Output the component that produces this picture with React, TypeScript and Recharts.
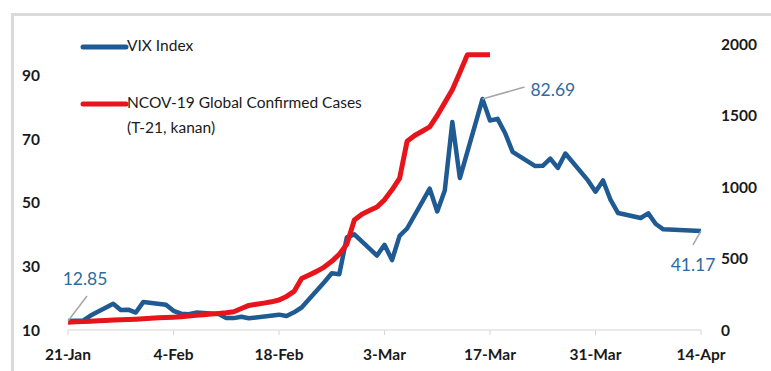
import { LineChart, Line, XAxis, YAxis, LabelList } from 'recharts';

// day offsets from 21-Jan for each VIX close (trading days only)
const vixDays = [
    0, 1, 2, 3, 6, 7, 8, 9, 10, 13, 14, 15, 16, 17, 20, 21, 22, 23, 24, 28, 29, 30, 31, 34, 35, 36, 37, 38,
    41, 42, 43, 44, 45, 48, 49, 50, 51, 52, 55, 56, 57, 58, 59, 62, 63, 64, 65, 66, 69, 70, 71, 72, 73, 76,
    77, 78, 79, 84,
];
const vixValues = [
    12.85, 12.91, 12.98, 14.56, 18.23, 16.28, 16.39, 15.49, 18.84, 17.97, 16.05, 15.15, 14.96, 15.47, 15.04,
    13.74, 13.74, 14.15, 13.68, 14.83, 14.38, 15.56, 17.08, 25.03, 27.85, 27.56, 39.16, 40.11, 33.42, 36.82,
    31.99, 39.62, 41.94, 54.46, 47.3, 53.9, 75.47, 57.83, 82.69, 75.91, 76.45, 72.0, 66.04, 61.59, 61.67,
    63.95, 61.0, 65.54, 57.08, 53.54, 57.06, 50.91, 46.8, 45.24, 46.7, 43.35, 41.67, 41.17,
];

// global confirmed cases (thousands), shifted 21 days, one value per calendar day from 21-Jan
const caseValues = [
    55, 57, 59, 61, 64, 67, 70, 72, 74, 76, 79, 82, 85, 88, 90, 93, 98, 103, 107, 111, 115, 120, 128, 150,
    172, 180, 188, 197, 210, 235, 270, 360, 385, 410, 440, 480, 530, 600, 770, 810, 835, 860, 910, 980, 1060,
    1320, 1360, 1390, 1420, 1500, 1590, 1680, 1800, 1925, 1925, 1925, 1925,
];

const tickDays = [0, 14, 28, 42, 56, 70, 84];
const tickLabels = ['21-Jan', '4-Feb', '18-Feb', '3-Mar', '17-Mar', '31-Mar', '14-Apr'];

const totalDays = 84;
const table = Array.from({ length: totalDays + 1 }, (_, d) => {
    const vi = vixDays.indexOf(d);
    return {
        d,
        vix: vi >= 0 ? vixValues[vi] : null,
        cases: d < caseValues.length ? caseValues[d] : null,
    };
});

const peakDay = vixDays[vixValues.indexOf(Math.max(...vixValues))];
const lastDay = vixDays[vixDays.length - 1];

const BLUE = '#1f5a92';
const RED = '#e8141c';
const LABEL_BLUE = '#2f6aa0';
const FONT = 'Lato, "Open Sans", sans-serif';

// leader line + value for the first, peak and last VIX closes
const VixLabel = (props: any) => {
    const { x, y, value, index } = props;
    if (value == null) return null;
    let lx = 0, ly = 0, tx = 0, ty = 0, anchor = 'middle';
    if (index === 0) {
        lx = x + 19; ly = y - 25; tx = x + 17; ty = y - 40;
    } else if (index === peakDay) {
        lx = x + 42; ly = y - 12; tx = x + 48; ty = y - 7; anchor = 'start';
    } else if (index === lastDay) {
        lx = x - 8; ly = y + 14; tx = x - 8; ty = y + 36; anchor = 'middle';
    } else {
        return null;
    }
    return (
        <g>
            <line x1={x} y1={y} x2={lx} y2={ly} stroke="#a6a6a6" strokeWidth={1.5} />
            <text x={tx} y={ty} textAnchor={anchor} dominantBaseline="middle" fill={LABEL_BLUE}
                fontSize={17.5} fontFamily={FONT}>
                {value.toFixed(2)}
            </text>
        </g>
    );
};

function LegendOverlay() {
    return (
        <svg width={400} height={150} style={{ position: 'absolute', left: 0, top: 0 }}>
            <line x1={83} y1={47} x2={126} y2={47} stroke={BLUE} strokeWidth={5} strokeLinecap="round" />
            <text x={127} y={47} dominantBaseline="middle" fontSize={15.5} fontFamily={FONT} fill="#1a1a1a">
                VIX Index
            </text>
            <line x1={83} y1={104} x2={126} y2={104} stroke={RED} strokeWidth={5} strokeLinecap="round" />
            <text x={127} y={104} dominantBaseline="middle" fontSize={15.5} fontFamily={FONT} fill="#1a1a1a">
                NCOV-19 Global Confirmed Cases
            </text>
            <text x={127} y={129} dominantBaseline="middle" fontSize={15.5} fontFamily={FONT} fill="#1a1a1a">
                (T-21, kanan)
            </text>
        </svg>
    );
}

export default function App() {
    const tickStyle = { fontSize: 15.5, fontWeight: 700, fill: '#1a1a1a', fontFamily: FONT };
    return (
        <div style={{ position: 'absolute', left: 0, top: 0, width: 771, height: 371, background: '#fff' }}>
            <div
                style={{
                    position: 'absolute',
                    left: 11,
                    top: 13,
                    right: 0,
                    bottom: 0,
                    borderTop: '3px solid #dadada',
                    borderLeft: '3px solid #dadada',
                }}
            />
            <LineChart width={771} height={371} data={table} margin={{ top: 44, right: 0, bottom: 0, left: 0 }}
                style={{ position: 'absolute', left: 0, top: 0 }}>
                <XAxis
                    dataKey="d"
                    type="number"
                    domain={[0, totalDays]}
                    ticks={tickDays}
                    tickFormatter={(v: number) => tickLabels[tickDays.indexOf(v)]}
                    height={41}
                    stroke="#d6d6d6"
                    tickSize={5}
                    tickMargin={14}
                    tick={tickStyle}
                    interval={0}
                />
                <YAxis
                    yAxisId="left"
                    domain={[10, 100]}
                    ticks={[10, 30, 50, 70, 90]}
                    width={68}
                    axisLine={false}
                    tickLine={false}
                    tickSize={0}
                    tickMargin={28}
                    tick={tickStyle}
                />
                <YAxis
                    yAxisId="right"
                    orientation="right"
                    domain={[0, 2000]}
                    ticks={[0, 500, 1000, 1500, 2000]}
                    width={70}
                    axisLine={false}
                    tickLine={false}
                    tickSize={0}
                    tickMargin={20}
                    tick={{ ...tickStyle, textAnchor: 'start' }}
                />
                <Line
                    yAxisId="left"
                    dataKey="vix"
                    type="linear"
                    stroke={BLUE}
                    strokeWidth={4.5}
                    strokeLinejoin="round"
                    dot={false}
                    connectNulls
                    isAnimationActive={false}
                >
                    <LabelList dataKey="vix" content={VixLabel} />
                </Line>
                <Line
                    yAxisId="right"
                    dataKey="cases"
                    type="linear"
                    stroke={RED}
                    strokeWidth={5}
                    strokeLinejoin="round"
                    dot={false}
                    isAnimationActive={false}
                />
            </LineChart>
            <LegendOverlay />
        </div>
    );
}
